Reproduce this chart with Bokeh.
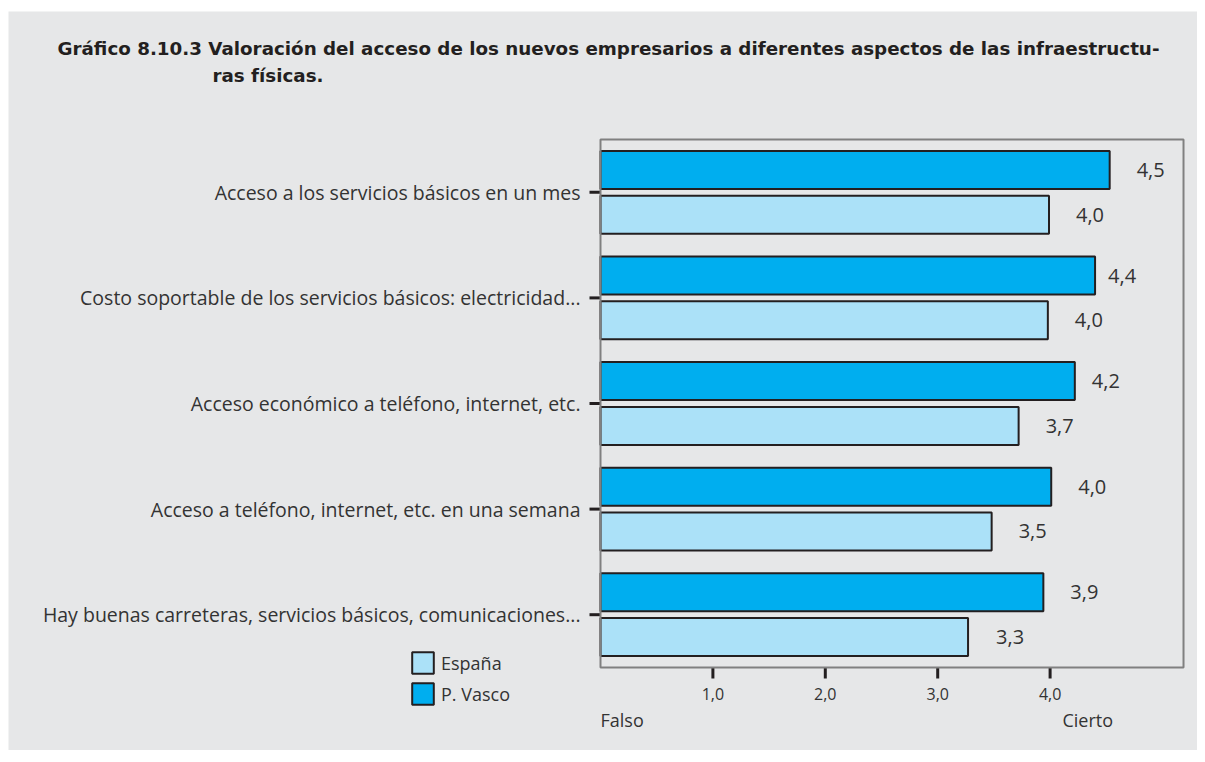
import numpy as np
from bokeh.plotting import figure
from bokeh.models import (ColumnDataSource, Range1d, Legend, LegendItem, Label,
                          BoxAnnotation)
from bokeh.transform import dodge
from bokeh.core.properties import value
from bokeh.embed import file_html
from bokeh.resources import INLINE

# ---------------- data ----------------
categories = [
    "Acceso a los servicios básicos en un mes",
    "Costo soportable de los servicios básicos: electricidad...",
    "Acceso económico a teléfono, internet, etc.",
    "Acceso a teléfono, internet, etc. en una semana",
    "Hay buenas carreteras, servicios básicos, comunicaciones...",
]
p_vasco = [4.53, 4.40, 4.22, 4.01, 3.94]
espana = [3.99, 3.98, 3.72, 3.48, 3.27]
x_ticks = [1, 2, 3, 4]
x_tick_labels = ["1,0", "2,0", "3,0", "4,0"]
x_max = 5.187                     # right end of the value axis
end_labels = ["Falso", "Cierto"]
end_label_pos = [0.0, 4.11]

title_line1 = "Gráfico 8.10.3 Valoración del acceso de los nuevos empresarios a diferentes aspectos de las infraestructu-"
title_line2 = "ras físicas."

# ---------------- style ----------------
BG = "#E6E7E8"
C_PV = "#00AEEF"
C_ES = "#ABE1F8"
EDGE = "#231F20"
TXT = "#333333"
FONT = "Open Sans"
TFONT = "DejaVu Sans"

def fmt(v):
    return f"{v:.1f}".replace(".", ",")

n = len(categories)
ypos = [n - 1 - i for i in range(n)]          # first category on top

pv_dx = [27, 13, 17, 27, 27]   # label offsets (px) right of bar ends
es_dx = [27, 27, 27, 27, 28]

src_pv = ColumnDataSource(dict(y=ypos, val=p_vasco, lab=[fmt(v) for v in p_vasco], dx=pv_dx))
src_es = ColumnDataSource(dict(y=ypos, val=espana, lab=[fmt(v) for v in espana], dx=es_dx))
src_cat = ColumnDataSource(dict(y=ypos, x=[0] * n, lab=categories))
src_xt = ColumnDataSource(dict(x=x_ticks, y=[-0.5] * len(x_ticks), lab=x_tick_labels))
src_end = ColumnDataSource(dict(x=end_label_pos, y=[-0.5] * 2, lab=end_labels))

# canvas 1189 x 739 placed at (8, 11); value 0 at page x=600, 112.4 px/unit;
# category band from page y=139 to 667 (105.6 px per category)
PXU_X = 112.4
PXU_Y = 105.6
W, H = 1189, 739
x0 = -(600 - 8) / PXU_X
y1 = (n - 0.5) + (139 - 11) / PXU_Y
p = figure(width=W, height=H, margin=(11, 0, 0, 8),
           x_range=Range1d(x0, x0 + W / PXU_X),
           y_range=Range1d(y1 - H / PXU_Y, y1),
           x_axis_type=None, y_axis_type=None, title_location=None,
           output_backend="svg", toolbar_location=None,
           min_border=0, min_border_left=0, min_border_right=0,
           min_border_top=0, min_border_bottom=0)
p.background_fill_color = BG
p.border_fill_color = BG
p.outline_line_color = None
p.xgrid.visible = False
p.ygrid.visible = False

# plot box
p.add_layout(BoxAnnotation(left=0, right=x_max, bottom=-0.5, top=n - 0.5,
                           fill_alpha=0, line_color="#808080", line_alpha=1,
                           line_width=2))

OFF = 0.212
BH = 0.36
r_pv = p.hbar(y=dodge("y", OFF), right="val", left=0, height=BH, source=src_pv,
              fill_color=C_PV, line_color=EDGE, line_width=2)
r_es = p.hbar(y=dodge("y", -OFF), right="val", left=0, height=BH, source=src_es,
              fill_color=C_ES, line_color=EDGE, line_width=2)

for src, off in ((src_pv, OFF), (src_es, -OFF)):
    p.text(x="val", y=dodge("y", off), text="lab", source=src, x_offset="dx",
           text_baseline="middle", text_align="left",
           text_font=value(FONT), text_font_size="20px", text_color=TXT)

# category axis: ticks and labels
p.ray(x="x", y="y", length=11, length_units="screen", angle=np.pi,
      source=src_cat, line_color=EDGE, line_width=3)
p.text(x="x", y="y", text="lab", source=src_cat, x_offset=-20,
       text_align="right", text_baseline="middle",
       text_font=value(FONT), text_font_size="19.5px", text_color=TXT)

# value axis: ticks and labels
p.ray(x="x", y="y", length=11, length_units="screen", angle=-np.pi / 2,
      source=src_xt, line_color=EDGE, line_width=3)
p.text(x="x", y="y", text="lab", source=src_xt, y_offset=26,
       text_align="center", text_baseline="middle",
       text_font=value(FONT), text_font_size="16px", text_color=TXT)
p.text(x="x", y="y", text="lab", source=src_end, y_offset=52,
       text_align="left", text_baseline="middle",
       text_font=value(FONT), text_font_size="18px", text_color=TXT)

# legend (area glyphs are drawn inset by 10% of the glyph box)
legend = Legend(items=[LegendItem(label="España", renderers=[r_es]),
                       LegendItem(label="P. Vasco", renderers=[r_pv])],
                location=(401, 43), orientation="vertical",
                glyph_width=27, glyph_height=27, label_height=27,
                spacing=4, padding=0, margin=0, label_standoff=5,
                border_line_color=None, background_fill_alpha=0,
                label_text_font=FONT, label_text_font_size="18px",
                label_text_color=TXT)
p.add_layout(legend, "center")

# title (two lines)
p.add_layout(Label(x=49, y=750 - 48, x_units="screen", y_units="screen",
                   text=title_line1, text_font=TFONT, text_font_size="18.3px",
                   text_font_style="bold", text_color="#231F20",
                   text_baseline="middle"))
p.add_layout(Label(x=204, y=750 - 75, x_units="screen", y_units="screen",
                   text=title_line2, text_font=TFONT, text_font_size="18.3px",
                   text_font_style="bold", text_color="#231F20",
                   text_baseline="middle"))

open("out.html", "w").write(file_html(p, INLINE))
